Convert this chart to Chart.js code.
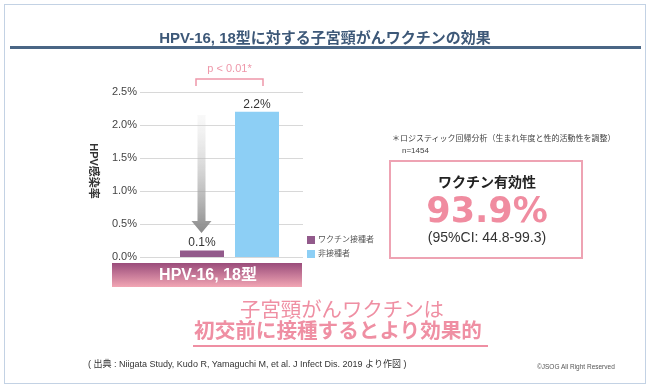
<!DOCTYPE html>
<html><head><meta charset="utf-8">
<script src="https://cdn.jsdelivr.net/npm/chart.js@4"></script>
<style>
html,body{margin:0;padding:0;background:#fff;}
#wrap{position:relative;width:652px;height:388px;overflow:hidden;font-family:"Liberation Sans","Noto Sans CJK JP",sans-serif;}
#c{position:absolute;left:0;top:0;}
.t{position:absolute;white-space:nowrap;line-height:1;}
.c{transform:translate(-50%,-50%);}
.l{transform:translate(0,-50%);}
</style></head><body>
<div id="wrap">
<canvas id="c" width="652" height="388"></canvas>
<div style="position:absolute;left:4px;top:4px;width:642px;height:380px;border:1.5px solid #c3d2e4;box-sizing:border-box"></div>
<div class="t c" style="left:325px;top:37px;font-size:15px;font-weight:bold;color:#3d5878">HPV-16, 18型に対する子宮頸がんワクチンの効果</div>
<div style="position:absolute;left:10px;top:46px;width:631px;height:2.5px;background:#4a6685"></div>
<div class="t l" style="left:392px;top:139px;font-size:8px;color:#444">＊ロジスティック回帰分析（生まれ年度と性的活動性を調整）</div>
<div class="t l" style="left:402px;top:151px;font-size:8px;color:#444">n=1454</div>
<div style="position:absolute;left:389px;top:160px;width:194px;height:99px;border:2px solid #eea3b3;box-sizing:border-box"></div>
<div class="t c" style="left:487px;top:182px;font-size:14px;font-weight:bold;color:#222">ワクチン有効性</div>
<div class="t c" style="left:487px;top:210px;font-size:35px;font-weight:bold;color:#f08ca0;font-family:'DejaVu Sans',sans-serif">93.9%</div>
<div class="t c" style="left:487px;top:237px;font-size:14px;color:#333">(95%CI: 44.8-99.3)</div>
<div class="t c" style="left:342px;top:308px;font-size:20.4px;color:#ef8fa3;font-family:'Noto Sans CJK JP',sans-serif">子宮頸がんワクチンは</div>
<div class="t c" style="left:338px;top:329px;font-size:20.6px;font-weight:bold;color:#ef8fa3;font-family:'Noto Sans CJK JP',sans-serif">初交前に接種するとより効果的</div>
<div style="position:absolute;left:193px;top:345px;width:295px;height:2px;background:#ef8fa3"></div>
<div class="t l" style="left:88px;top:364px;font-size:9px;color:#333">( 出典 : Niigata Study, Kudo R, Yamaguchi M, et al. J Infect Dis. 2019 より作図 )</div>
<div class="t l" style="left:537px;top:367px;font-size:6.5px;color:#555">©JSOG All Right Reserved</div>
</div>
<script>
const categories = ['HPV-16, 18型'];
const seriesNames = ['ワクチン接種者', '非接種者'];
const vaccinated = [0.1];
const unvaccinated = [2.2];
const seriesColors = ['#925a8b', '#8dcff5'];
const yAxisTitle = 'HPV感染率';
const pLabel = 'p < 0.01*';

const FONT = '"Liberation Sans","Noto Sans CJK JP",sans-serif';
const GRID_W = 163;

const deco = {
  id: 'deco',
  beforeDatasetsDraw(chart) {
    const {ctx, chartArea: a, scales: {y}} = chart;
    ctx.save();
    ctx.strokeStyle = '#d8d8d8';
    ctx.lineWidth = 1;
    y.ticks.forEach(t => {
      const py = Math.round(y.getPixelForValue(t.value)) + 0.5;
      ctx.beginPath(); ctx.moveTo(a.left, py); ctx.lineTo(a.left + GRID_W, py); ctx.stroke();
    });
    ctx.restore();
  },
  afterDatasetsDraw(chart) {
    const {ctx, chartArea: a} = chart;
    const b1 = chart.getDatasetMeta(0).data[0];
    const b2 = chart.getDatasetMeta(1).data[0];
    ctx.save();
    // value labels
    ctx.fillStyle = '#333';
    ctx.font = '12px ' + FONT;
    ctx.textAlign = 'center'; ctx.textBaseline = 'middle';
    [[b1, vaccinated[0]], [b2, unvaccinated[0]]].forEach(([b, v]) => {
      ctx.fillText(v.toFixed(1) + '%', b.x, b.y - 7.5);
    });
    // gradient arrow
    const ax = b1.x - 0.5, top = 115, headTop = 221, tip = 233;
    const g = ctx.createLinearGradient(0, top, 0, tip);
    g.addColorStop(0, 'rgba(215,215,215,0.15)');
    g.addColorStop(1, '#8a8a8a');
    ctx.fillStyle = g;
    ctx.beginPath();
    ctx.moveTo(ax - 4, top); ctx.lineTo(ax + 4, top); ctx.lineTo(ax + 4, headTop);
    ctx.lineTo(ax + 10, headTop); ctx.lineTo(ax, tip); ctx.lineTo(ax - 10, headTop);
    ctx.lineTo(ax - 4, headTop); ctx.closePath(); ctx.fill();
    // bracket
    const bl = b1.x - 6, br = b2.x + 6;
    ctx.strokeStyle = '#ee97a9'; ctx.lineWidth = 1.5;
    ctx.beginPath(); ctx.moveTo(bl, 86); ctx.lineTo(bl, 79); ctx.lineTo(br, 79); ctx.lineTo(br, 86); ctx.stroke();
    ctx.fillStyle = '#ee97a9';
    ctx.font = '11px ' + FONT;
    ctx.fillText(pLabel, (bl + br) / 2, 69);
    // category band
    const bx0 = 112, bx1 = a.left + GRID_W - 1, by0 = a.bottom + 6, by1 = a.bottom + 30;
    const gb = ctx.createLinearGradient(0, by0, 0, by1);
    gb.addColorStop(0, '#9a4c7b');
    gb.addColorStop(1, '#f2a6b4');
    ctx.fillStyle = gb;
    ctx.fillRect(bx0, by0, bx1 - bx0, by1 - by0);
    ctx.fillStyle = '#fff';
    ctx.font = 'bold 16px ' + FONT;
    ctx.fillText(categories[0], (bx0 + bx1) / 2 + 1, (by0 + by1) / 2 + 1);
    // y axis title (rotated clockwise)
    ctx.save();
    ctx.translate(93, 171);
    ctx.rotate(Math.PI / 2);
    ctx.fillStyle = '#333';
    ctx.font = 'bold 11px ' + FONT;
    ctx.fillText(yAxisTitle, 0, 0);
    ctx.restore();
    // legend
    ctx.textAlign = 'left';
    ctx.font = '8px ' + FONT;
    seriesNames.forEach((n, i) => {
      const cy = 240 + i * 14;
      ctx.fillStyle = seriesColors[i];
      ctx.fillRect(307, cy - 4, 8, 8);
      ctx.fillStyle = '#555';
      ctx.fillText(n, 318, cy);
    });
    ctx.restore();
  }
};

new Chart(document.getElementById('c'), {
  type: 'bar',
  data: {
    labels: categories,
    datasets: [
      {label: seriesNames[0], data: vaccinated, backgroundColor: seriesColors[0], categoryPercentage: 0.6145, barPercentage: 0.8},
      {label: seriesNames[1], data: unvaccinated, backgroundColor: seriesColors[1], categoryPercentage: 0.6145, barPercentage: 0.8}
    ]
  },
  options: {
    responsive: false,
    animation: false,
    events: [],
    layout: {padding: {left: 0, top: 92, right: 333, bottom: 131}},
    plugins: {legend: {display: false}, tooltip: {enabled: false}},
    scales: {
      x: {display: false},
      y: {
        min: 0, max: 2.5,
        afterFit(s) { s.width = 140; },
        grid: {display: false, drawTicks: false},
        border: {display: false},
        ticks: {stepSize: 0.5, padding: 3, color: '#444', font: {size: 11, family: FONT}, callback: v => v.toFixed(1) + '%'}
      }
    }
  },
  plugins: [deco]
});
</script>
</body></html>
